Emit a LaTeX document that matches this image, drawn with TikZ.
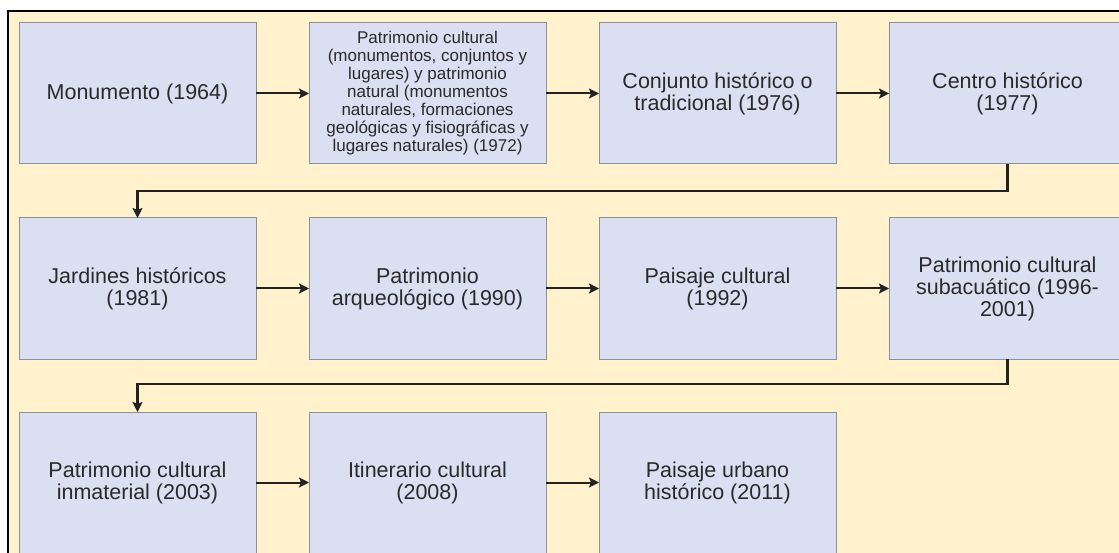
\documentclass[tikz,border=0pt]{standalone}
\usepackage{fontspec}
\setmainfont{Liberation Sans}
\usetikzlibrary{arrows.meta}

\definecolor{panelfill}{HTML}{FFF2CC}
\definecolor{boxfill}{HTML}{DADFF1}
\definecolor{boxline}{HTML}{8E9099}
\definecolor{ink}{HTML}{2A2A2A}
\definecolor{wire}{HTML}{222222}

\tikzset{
  stage/.style={draw=boxline, line width=1pt, fill=boxfill, text=ink,
    minimum width=237pt, minimum height=141pt, inner sep=0pt, outer sep=0pt,
    align=center, font=\fontsize{21.5}{22}\selectfont},
  smalltext/.style={font=\fontsize{17}{18}\selectfont},
  link/.style={draw=wire, line width=2pt,
    -{Stealth[length=10pt, width=10pt, inset=2pt]}},
  wrap/.style={draw=wire, line width=2.4pt,
    -{Stealth[length=10pt, width=10pt, inset=2pt]}}
}

\begin{document}
\begin{tikzpicture}[x=1pt, y=-1pt]
  % page and frame
  \fill[white] (0,0) rectangle (1119,553);
  \useasboundingbox (0,0) rectangle (1119,553);
  \clip (0,0) rectangle (1119,553);
  \draw[black, line width=2pt, fill=panelfill] (8,11) rectangle (1140,580);

  % first row
  \node[stage] (b1) at (137.5,93.5) {Monumento (1964)};
  \node[stage, smalltext] (b2) at (427.5,93.5)
    {Patrimonio cultural\\(monumentos, conjuntos y\\lugares) y patrimonio\\natural (monumentos\\naturales, formaciones\\geológicas y fisiográficas y\\lugares naturales) (1972)};
  \node[stage] (b3) at (717.5,93.5) {Conjunto histórico o\\tradicional (1976)};
  \node[stage] (b4) at (1007.5,93.5) {Centro histórico\\(1977)};

  % second row
  \node[stage] (b5) at (137.5,288.5) {Jardines históricos\\(1981)};
  \node[stage] (b6) at (427.5,288.5) {Patrimonio\\arqueológico (1990)};
  \node[stage] (b7) at (717.5,288.5) {Paisaje cultural\\(1992)};
  \node[stage] (b8) at (1007.5,288.5) {Patrimonio cultural\\subacuático (1996-\\2001)};

  % third row
  \node[stage] (b9) at (137.5,482.5) {Patrimonio cultural\\inmaterial (2003)};
  \node[stage] (b10) at (427.5,482.5) {Itinerario cultural\\(2008)};
  \node[stage] (b11) at (717.5,482.5) {Paisaje urbano\\histórico (2011)};

  % connectors
  \draw[link] (b1) -- (b2);
  \draw[link] (b2) -- (b3);
  \draw[link] (b3) -- (b4);
  \draw[wrap] (b4.south) -- ++(0,27) -| (b5.north);
  \draw[link] (b5) -- (b6);
  \draw[link] (b6) -- (b7);
  \draw[link] (b7) -- (b8);
  \draw[wrap] (b8.south) -- ++(0,25) -| (b9.north);
  \draw[link] (b9) -- (b10);
  \draw[link] (b10) -- (b11);
\end{tikzpicture}
\end{document}
